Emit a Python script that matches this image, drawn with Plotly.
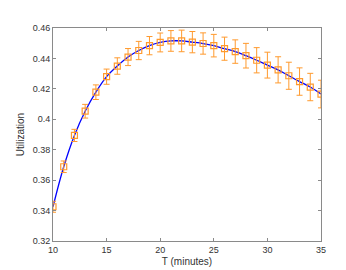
import plotly.graph_objects as go

T = list(range(10, 36))
util = [0.3425, 0.3688, 0.3894, 0.4053, 0.4178, 0.4280, 0.4350, 0.4409, 0.4452,
        0.4484, 0.4505, 0.4515, 0.4515, 0.4507, 0.4498, 0.4484, 0.4464, 0.4445,
        0.4418, 0.4388, 0.4356, 0.4325, 0.4286, 0.4248, 0.4212, 0.4166]
err = [0.0036, 0.0038, 0.0040, 0.0045, 0.0048, 0.0050, 0.0054, 0.0056, 0.0060,
       0.0060, 0.0062, 0.0068, 0.0071, 0.0070, 0.0070, 0.0074, 0.0076, 0.0077,
       0.0081, 0.0083, 0.0085, 0.0086, 0.0089, 0.0090, 0.0090, 0.0091]
yticks = [0.32, 0.34, 0.36, 0.38, 0.40, 0.42, 0.44, 0.46]
yticklabels = ["0.32", "0.34", "0.36", "0.38", "0.4", "0.42", "0.44", "0.46"]
xticks = [10, 15, 20, 25, 30, 35]

orange = "#FF9A2E"
fig = go.Figure()
fig.add_trace(go.Scatter(
    x=T, y=util, mode="lines", line=dict(color="#0000FF", width=1.3, shape="spline"),
    hoverinfo="skip", showlegend=False))
fig.add_trace(go.Scatter(
    x=T, y=util, mode="markers",
    marker=dict(symbol="square-open", size=6, color=orange, line=dict(width=1.2, color=orange)),
    error_y=dict(type="data", array=err, color=orange, thickness=1, width=3),
    showlegend=False))

axcommon = dict(showline=True, linecolor="#8a8a8a", linewidth=1, mirror="ticks",
                ticks="inside", ticklen=3, tickcolor="#8a8a8a", showgrid=False,
                zeroline=False, tickfont=dict(family="Liberation Sans, Arial", size=9, color="#333"))
fig.update_layout(
    width=346, height=270,
    margin=dict(l=45, r=33, t=20, b=30),
    plot_bgcolor="white", paper_bgcolor="white",
    font=dict(family="Liberation Sans, Arial", color="#333"),
    xaxis=dict(range=[10, 35], tickvals=xticks,
               title=dict(text="T (minutes)", font=dict(size=10), standoff=4), **axcommon),
    yaxis=dict(range=[0.32, 0.46], tickvals=yticks, ticktext=yticklabels,
               title=dict(text="Utilization", font=dict(size=10), standoff=6), **axcommon),
)
fig.write_html("out.html")
